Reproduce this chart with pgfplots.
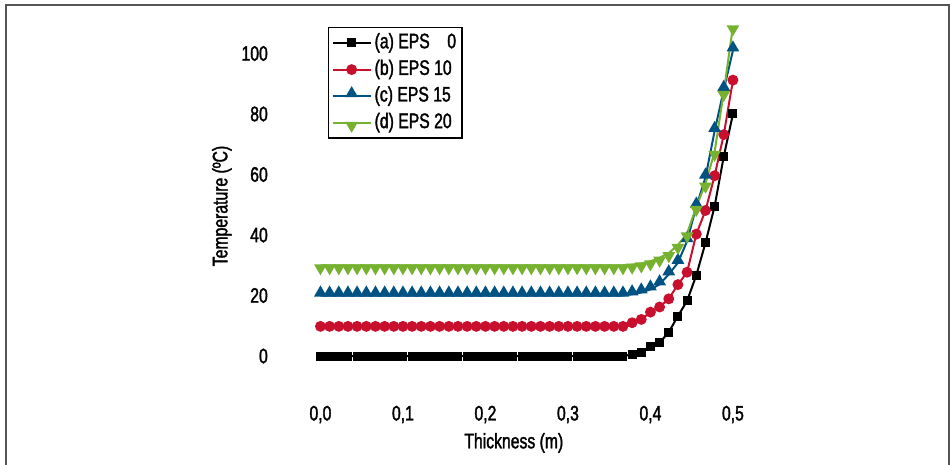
\documentclass[border=0pt]{standalone}
\usepackage{fontspec}
\setmainfont{Liberation Sans}[FakeStretch=0.75, FakeBold=1.6]
\usepackage{pgfplots}
\usepackage{pgfplotstable}
\pgfplotsset{compat=1.18}
\definecolor{cA}{RGB}{0 0 0}
\definecolor{cB}{RGB}{200 16 46}
\definecolor{cC}{RGB}{0 82 130}
\definecolor{cD}{RGB}{118 178 48}
\definecolor{frame}{RGB}{85 85 85}

% x = thickness (m), a..d = temperature (C) for EPS 0, 10, 15, 20
\pgfplotstableread{
x      a     b     c     d
0.0000 0     9.8   20    30
0.0111 0     9.8   20    30
0.0222 0     9.8   20    30
0.0333 0     9.8   20    30
0.0444 0     9.8   20    30
0.0556 0     9.8   20    30
0.0667 0     9.8   20    30
0.0778 0     9.8   20    30
0.0889 0     9.8   20    30
0.1000 0     9.8   20    30
0.1111 0     9.8   20    30
0.1222 0     9.8   20    30
0.1333 0     9.8   20    30
0.1444 0     9.8   20    30
0.1556 0     9.8   20    30
0.1667 0     9.8   20    30
0.1778 0     9.8   20    30
0.1889 0     9.8   20    30
0.2000 0     9.8   20    30
0.2111 0     9.8   20    30
0.2222 0     9.8   20    30
0.2333 0     9.8   20    30
0.2444 0     9.8   20    30
0.2556 0     9.8   20    30
0.2667 0     9.8   20    30
0.2778 0     9.8   20    30
0.2889 0     9.8   20    30
0.3000 0     9.8   20    30
0.3111 0     9.8   20    30
0.3222 0     9.8   20    30
0.3333 0     9.8   20    30
0.3444 0     9.8   20    30
0.3556 0     9.8   20    30
0.3667 0     9.8   20    30
0.3778 0.5   11.0  20.4  30.2
0.3889 1.1   12.1  21.0  30.6
0.4000 3.0   14.5  22.0  31.3
0.4111 4.4   16.2  23.7  32.5
0.4222 7.9   18.9  27.0  34.0
0.4333 13.2  23.6  30.8  36.7
0.4444 18.2  27.7  38.0  40.5
0.4556 26.7  40.3  49.4  49.3
0.4667 37.4  48.1  59.0  57.0
0.4778 49.5  59.6  74.4  67.5
0.4889 66.0  73.2  88.0  87.3
0.5000 80.0  91.2  101.0 109.0
}\thick

\begin{document}
\begin{tikzpicture}[font=\fontsize{10.5}{12}\selectfont]
\useasboundingbox (0,0) rectangle (475pt,232.5pt);
\draw[frame, line width=1pt] (3pt,-2pt) -- (3pt,230pt) -- (474.5pt,230pt) -- (474.5pt,-2pt);
\begin{axis}[
    at={(139.6pt,31.8pt)}, anchor=south west,
    scale only axis,
    width=247.5pt, height=192.1pt,
    xmin=-0.05, xmax=0.55,
    ymin=-15, ymax=112,
    xtick={0,0.1,0.2,0.3,0.4,0.5},
    ytick={0,20,40,60,80,100},
    axis line style={draw=none},
    tick style={draw=none},
    major tick length=0pt,
    /pgf/number format/assume math mode=true,
    x tick label style={/pgf/number format/fixed, /pgf/number format/fixed zerofill,
        /pgf/number format/precision=1, /pgf/number format/use comma},
    xticklabel style={anchor=north, inner sep=0pt, yshift=-2pt},
    yticklabel style={anchor=east, inner sep=0pt, xshift=-5.5pt},
    xlabel={Thickness (m)},
    ylabel={Temperature (ºC)},
    xlabel style={at={(0.474,-0.108)}, anchor=center},
    ylabel style={at={(-0.1157,0.5086)}, anchor=center},
    clip=false,
    legend style={at={(0.0985,0.9745)}, anchor=north west,
        draw=black, line width=0.7pt, inner xsep=1.5pt, inner ysep=1pt,
        row sep=0pt,
        nodes={inner sep=1.5pt, text height=7.8pt, text depth=2.5pt},
        font=\fontsize{10.5}{12}\selectfont},
    legend cell align=left,
    legend image code/.code={%
        \draw[mark repeat=2, mark phase=2, #1]
            plot coordinates {(0pt,0pt) (9.5pt,0pt) (19pt,0pt)};},
]
\addplot[cA, line width=1pt, mark=square*, mark size=1.75pt,
    mark options={solid}] table[x=x, y=a] {\thick};
\addlegendentry{(a) EPS\ \ \phantom{1}0}
\addplot[cB, line width=1pt, mark=*, mark size=2.2pt,
    mark options={solid}] table[x=x, y=b] {\thick};
\addlegendentry{(b) EPS 10}
\addplot[cC, line width=1pt, mark=triangle*, mark size=2.7pt,
    mark options={solid, yshift=1.35pt}] table[x=x, y=c] {\thick};
\addlegendentry{(c) EPS 15}
\addplot[cD, line width=1pt, mark=triangle*, mark size=2.7pt,
    mark options={solid, yshift=-1.35pt, rotate=180}] table[x=x, y=d] {\thick};
\addlegendentry{(d) EPS 20}
\end{axis}
\end{tikzpicture}
\end{document}
